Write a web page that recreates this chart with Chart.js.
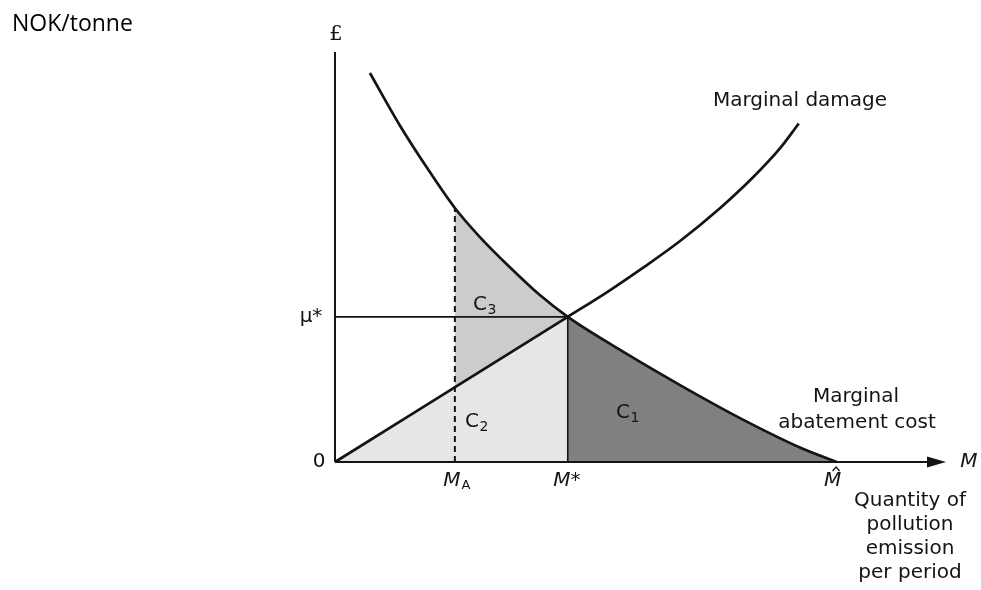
<!DOCTYPE html>
<html>
<head>
<meta charset="utf-8">
<script src="https://cdn.jsdelivr.net/npm/chart.js@4"></script>
<style>
  body { margin: 0; background: #fff; }
  #wrap { width: 981px; height: 590px; }
</style>
</head>
<body>
<div id="wrap"><canvas id="myChart" width="981" height="590"></canvas></div>
<script>
// axis extent (data units)
const xMax = 105;
const yMax = 113;

// key points on the axes
const mStar = 40;
const muStar = 40;
const mA = 20.6;
const mHat = 86.2;

// marginal abatement cost curve
const macX = [6.0, 11.2, 16.3, 20.6, 24.9, 30.1, 35.2, 40.0, 49.0, 59.3, 69.6, 79.9, 86.2];
const macY = [107.2, 92.6, 79.9, 70.0, 62.0, 53.6, 46.0, 40.0, 30.9, 21.2, 12.1, 4.0, 0];

// marginal damage curve
const mdX = [0, 40, 47.3, 52.9, 59.3, 66.2, 71.8, 76.5, 79.7];
const mdY = [0, 40, 47.4, 53.5, 60.9, 70.0, 78.4, 86.5, 93.3];

// tick labels
const xTickLabels = ['M', 'M*', 'M'];   // M_A, M*, M-hat
const yTickLabels = ['0', 'μ*'];

const pts = (xs, ys) => xs.map((x, i) => ({ x: x, y: ys[i] }));
const macPts = pts(macX, macY);
const mdPts = pts(mdX, mdY);
const macAtA = macY[macX.indexOf(mA)];

const c1Pts = macPts.filter(p => p.x >= mStar);
const c3Pts = macPts.filter(p => p.x >= mA && p.x <= mStar);
const mdSeg = [{ x: mA, y: mA * muStar / mStar }, { x: mStar, y: muStar }];
const c2Pts = mdPts.filter(p => p.x <= mStar);

const ink = '#141414';

function line(data, extra) {
    return Object.assign({
        data: data,
        showLine: true,
        borderColor: ink,
        borderWidth: 2,
        pointRadius: 0,
        fill: false,
        clip: false,
    }, extra);
}

const labelsPlugin = {
    id: 'labels',
    afterDatasetsDraw(chart) {
        const ctx = chart.ctx;
        const xs = chart.scales.x, ys = chart.scales.y;
        const X = v => xs.getPixelForValue(v);
        const Y = v => ys.getPixelForValue(v);
        const sans = '"DejaVu Sans", sans-serif';
        ctx.save();
        ctx.fillStyle = ink;
        ctx.strokeStyle = ink;

        // arrow head on the x axis
        const tip = X(xMax);
        ctx.beginPath();
        ctx.moveTo(tip, Y(0));
        ctx.lineTo(tip - 19, Y(0) - 5.5);
        ctx.lineTo(tip - 19, Y(0) + 5.5);
        ctx.closePath();
        ctx.fill();

        ctx.textAlign = 'center';
        ctx.textBaseline = 'middle';

        // y axis tick labels
        ctx.font = '20px ' + sans;
        ctx.fillText(yTickLabels[0], X(0) - 16, Y(0));
        ctx.fillText(yTickLabels[1], X(0) - 24, Y(muStar));

        // £ on top of the y axis
        ctx.font = '21px "DejaVu Serif", serif';
        ctx.fillText('£', X(0) + 1, Y(yMax) - 17);

        // x axis tick labels (italic)
        ctx.font = 'italic 20px ' + sans;
        ctx.fillText(xTickLabels[0], X(mA) - 3, Y(0) + 19);
        ctx.font = '13px ' + sans;
        ctx.fillText('A', X(mA) + 11, Y(0) + 24);
        ctx.font = 'italic 20px ' + sans;
        ctx.fillText(xTickLabels[1], X(mStar) - 1, Y(0) + 19);
        ctx.fillText(xTickLabels[2], X(mHat) - 4, Y(0) + 19);
        // hat over M
        ctx.lineWidth = 1.3;
        ctx.beginPath();
        ctx.moveTo(X(mHat) - 4, Y(0) + 9);
        ctx.lineTo(X(mHat) - 0.5, Y(0) + 5);
        ctx.lineTo(X(mHat) + 3, Y(0) + 9);
        ctx.stroke();
        ctx.fillText('M', tip + 23, Y(0));

        // axis title
        ctx.font = '20px ' + sans;
        ['Quantity of', 'pollution', 'emission', 'per period'].forEach((t, i) => {
            ctx.fillText(t, 910, 501 + i * 24);
        });

        // curve names
        ctx.fillText('Marginal damage', 800, 101);
        ctx.fillText('Marginal', 856, 397);
        ctx.fillText('abatement cost', 857, 423);

        // area labels
        const cLabel = (x, y, n) => {
            ctx.font = '20px ' + sans;
            ctx.fillText('C', x, y);
            ctx.font = '14px ' + sans;
            ctx.fillText(n, x + 12, y + 5);
        };
        cLabel(480, 305, '3');
        cLabel(472, 422, '2');
        cLabel(623, 413, '1');

        // unit label, top left
        ctx.textAlign = 'left';
        ctx.textBaseline = 'alphabetic';
        ctx.font = '23px "Open Sans", sans-serif';
        ctx.fillStyle = '#000';
        ctx.fillText('NOK/tonne', 12, 31);
        ctx.restore();
    }
};

new Chart(document.getElementById('myChart'), {
    type: 'scatter',
    data: {
        datasets: [
            line(macPts, { borderWidth: 2.7, cubicInterpolationMode: 'monotone' }),
            line(mdPts, { borderWidth: 2.7, cubicInterpolationMode: 'monotone' }),
            line([{ x: 0, y: muStar }, { x: mStar, y: muStar }], { borderWidth: 1.6 }),
            line([{ x: mStar, y: 0 }, { x: mStar, y: muStar }], { borderWidth: 1.6 }),
            line([{ x: mA, y: 0 }, { x: mA, y: macAtA }], { borderWidth: 2, borderDash: [6, 4] }),
            line([{ x: 0, y: 0 }, { x: xMax - 3, y: 0 }], { borderWidth: 2 }),
            line([{ x: 0, y: 0 }, { x: 0, y: yMax }], { borderWidth: 2 }),
            line(c1Pts, { borderWidth: 0, fill: 'origin', backgroundColor: '#808080', cubicInterpolationMode: 'monotone' }),
            line(c3Pts, { borderWidth: 0, fill: 9, backgroundColor: '#cccccc', cubicInterpolationMode: 'monotone' }),
            line(mdSeg, { borderWidth: 0 }),
            line(c2Pts, { borderWidth: 0, fill: 'origin', backgroundColor: '#e6e6e6' }),
        ]
    },
    options: {
        responsive: false,
        animation: false,
        layout: { padding: { left: 335, right: 35, top: 52, bottom: 128 } },
        scales: {
            x: { type: 'linear', min: 0, max: xMax, display: false },
            y: { type: 'linear', min: 0, max: yMax, display: false }
        },
        plugins: {
            legend: { display: false },
            tooltip: { enabled: false }
        }
    },
    plugins: [labelsPlugin]
});
</script>
</body>
</html>
